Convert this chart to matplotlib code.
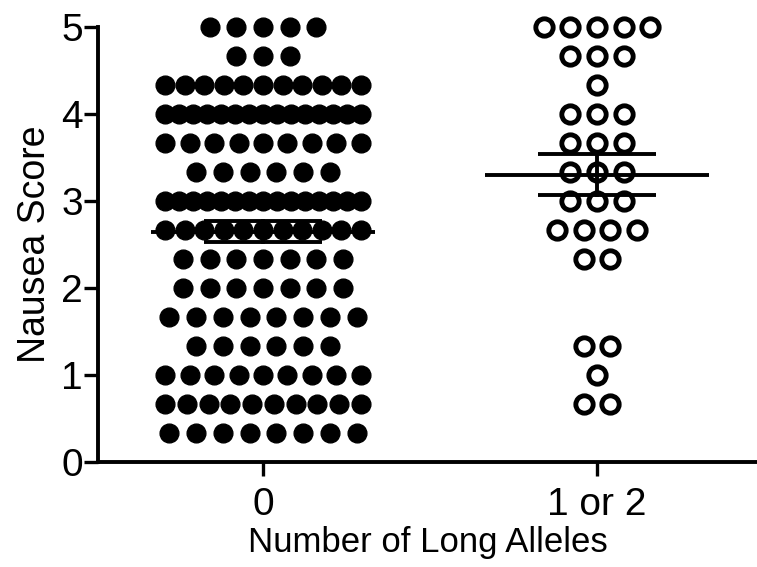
import numpy as np
import matplotlib
matplotlib.use("Agg")
import matplotlib.pyplot as plt

plt.rcParams['font.family'] = ['Liberation Sans', 'DejaVu Sans']

# Data: score levels and number of subjects at each level
categories = ["0", "1 or 2"]
levels_0 = [5.0, 14/3, 13/3, 4.0, 11/3, 10/3, 3.0, 8/3, 7/3, 2.0, 5/3, 4/3, 1.0, 2/3, 1/3]
counts_0 = [5, 3, 11, 15, 9, 6, 15, 11, 7, 7, 8, 6, 9, 10, 8]
levels_1 = [5.0, 14/3, 13/3, 4.0, 11/3, 10/3, 3.0, 8/3, 7/3, 4/3, 1.0, 2/3]
counts_1 = [5, 3, 1, 3, 3, 3, 3, 4, 2, 2, 1, 2]

fig = plt.figure(figsize=(7.57, 5.67), dpi=100)
ax = fig.add_axes([98/757, (567-462)/567, 1 - 98/757, (462-27)/567])

def spread(levels, counts, center):
    xs, ys = [], []
    for lv, n in zip(levels, counts):
        step = 0.08 if n <= 1 else min(0.08, 0.584 / (n - 1))
        offs = (np.arange(n) - (n - 1) / 2) * step
        xs.extend(center + offs)
        ys.extend([lv] * n)
    return np.array(xs), np.array(ys)

x0, y0 = spread(levels_0, counts_0, 0)
x1, y1 = spread(levels_1, counts_1, 1)

ax.plot(x0, y0, 'o', ms=13.5, color='black', mec='black', clip_on=False, zorder=2)
ax.plot(x1, y1, 'o', ms=12.5, mfc='white', mec='black', mew=3.5, clip_on=False, zorder=2)

LW = 2.8
for c, y in [(0, y0), (1, y1)]:
    m = y.mean()
    sem = y.std(ddof=1) / np.sqrt(len(y))
    ax.plot([c - 0.335, c + 0.335], [m, m], color='black', lw=LW, zorder=3, solid_capstyle='butt')
    ax.plot([c, c], [m - sem, m + sem], color='black', lw=LW, zorder=3)
    for yy in (m - sem, m + sem):
        ax.plot([c - 0.177, c + 0.177], [yy, yy], color='black', lw=LW, zorder=3, solid_capstyle='butt')

ax.set_xlim(-0.494, 1.479)
ax.set_ylim(0, 5)
ax.set_xticks([0, 1])
ax.set_xticklabels(categories)
ax.set_yticks([0, 1, 2, 3, 4, 5])
ax.spines['top'].set_visible(False)
ax.spines['right'].set_visible(False)
ax.spines['left'].set_linewidth(LW)
ax.spines['bottom'].set_linewidth(LW)
ax.tick_params(axis='both', width=2.4, length=10, labelsize=28, color='black')
ax.tick_params(axis='x', pad=8)
ax.tick_params(axis='y', pad=1)
ax.set_xlabel("Number of Long Alleles", fontsize=25, labelpad=2)
ax.set_ylabel("Nausea Score", fontsize=27, labelpad=6)

fig.savefig("out.png", dpi=100)
